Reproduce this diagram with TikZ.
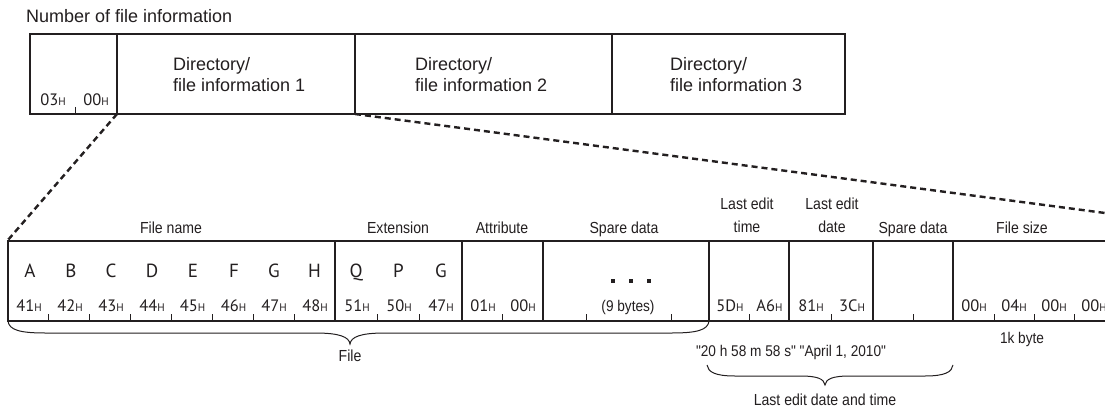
\documentclass[tikz,border=0pt]{standalone}
\usepackage{fontspec}
\setmainfont{Liberation Sans}
\newfontfamily\nrw[FakeStretch=0.88]{Liberation Sans}
\newfontfamily\hexfont{PT Sans}
\newcommand\hx[1]{{\hexfont\fontsize{16.5}{16.5}\selectfont #1{\fontsize{11}{11}\selectfont H}}}
\definecolor{ink}{RGB}{35,31,32}
\begin{document}
\begin{tikzpicture}[x=1pt,y=-1pt,
  every node/.style={text=ink, inner sep=0pt},
  box/.style={draw=ink, line width=1.2pt},
  tk/.style={draw=ink, line width=1pt},
  zoomline/.style={draw=ink, dash pattern=on 6pt off 4pt, line width=2.4pt},
  brc/.style={draw=ink, line width=1pt},
  lbl/.style={font=\nrw\fontsize{16}{23}\selectfont, align=center},
  dirtxt/.style={font=\fontsize{18}{21}\selectfont, align=left, anchor=north west},
  hexn/.style={anchor=base},
  letter/.style={font=\hexfont\fontsize{19}{19}\selectfont, anchor=base},
  dot/.style={fill=ink, minimum size=4.5pt, inner sep=0pt}
]
\clip (0,0) rectangle (1105,409);
\fill[white] (0,0) rectangle (1105,409);

% ---------- top structure ----------
\node[anchor=base west, font=\fontsize{18}{21}\selectfont] (numlbl) at (26,23) {Number of file information};
\draw[box] (30,34) rectangle (845,114);
\draw[box] (117,34) -- (117,114);
\draw[box] (355,34) -- (355,114);
\draw[box] (612,34) -- (612,114);
\draw[tk] (75,107) -- (75,114);
\node[hexn] (t03) at (53,106) {\hx{03}};
\node[hexn] (t00) at (96,106) {\hx{00}};
\node[dirtxt] (d1) at (173,57) {Directory/\\file information 1};
\node[dirtxt] (d2) at (415,57) {Directory/\\file information 2};
\node[dirtxt] (d3) at (670,57) {Directory/\\file information 3};

\coordinate (zl0) at (117,114);
\coordinate (zl1) at (8,240);
\coordinate (zr0) at (355,114);
\coordinate (zr1) at (1130,216.3);
\draw[zoomline] (zl0) -- (zl1);
\draw[zoomline] (zr0) -- (zr1);

% ---------- bottom table ----------
\draw[box] (1120,241) -- (8,241) -- (8,321) -- (1120,321);
\foreach \x in {335,462,543,709,789,873,953}
  \draw[box] (\x,241) -- (\x,321);
% byte ticks
\foreach \x in {48.9,89.75,130.6,171.5,212.4,253.25,294.1,377.3,419.7,502.5,586,671,749,831,913,994,1034,1074}
  \draw[tk] (\x,314) -- (\x,321);

% headers
\node[lbl, anchor=base] (hfn) at (171,233) {File name};
\node[lbl, anchor=base] (hext) at (398,233) {Extension};
\node[lbl, anchor=base] (hatt) at (502,233) {Attribute};
\node[lbl, anchor=base] (hsp1) at (624,233) {Spare data};
\node[lbl, anchor=north] (hlet) at (747,197.5) {Last edit\\time};
\node[lbl, anchor=north] (hled) at (832,197.5) {Last edit\\date};
\node[lbl, anchor=base] (hsp2) at (913,233) {Spare data};
\node[lbl, anchor=base] (hfs) at (1022,233) {File size};

% letters
\foreach \c/\x in {A/30,B/71,C/111,D/152,E/193,F/234,G/274,H/314.5,Q/356,P/398.5,G/441}
  \node[letter] at (\x,277) {\c};

% hex values
\foreach \v/\x in {41/29,42/70,43/111,44/152,45/192.5,46/233.5,47/274,48/315,51/357,50/399,47/441,01/483,00/523,5D/730,A6/769.5,81/811,3C/852,00/974,04/1014,00/1054,00/1094}
  \node[hexn] at (\x,311) {\hx{\v}};

\node[lbl, anchor=base, font=\nrw\fontsize{15.5}{18}\selectfont] (nine) at (628,311) {(9 bytes)};
\node[dot] (dt1) at (613,281) {};
\node[dot] (dt2) at (631,281) {};
\node[dot] (dt3) at (649,281) {};

% braces
\draw[brc] (8,321) .. controls (9,330) and (20,333) .. (45,333) -- (315,333)
  .. controls (340,333) and (349,337) .. (350,344)
  .. controls (351,337) and (360,333) .. (385,333) -- (672,333)
  .. controls (697,333) and (708,330) .. (709,321);
\node[lbl, anchor=base] (file) at (350,361) {File};

\node[lbl, anchor=base, font=\nrw\fontsize{15.5}{18}\selectfont] (kb) at (1022,343) {1k byte};
\node[lbl, anchor=base, font=\nrw\fontsize{15.5}{18}\selectfont] (dtv) at (791,356) {"20 h 58 m 58 s" "April 1, 2010"};

\draw[brc] (707,365) .. controls (708,372) and (715,376) .. (735,376) -- (800,376)
  .. controls (818,376) and (824,379) .. (825,385)
  .. controls (826,379) and (832,376) .. (850,376) -- (925,376)
  .. controls (945,376) and (952,372) .. (953,365);
\node[lbl, anchor=base] (ledt) at (825,405) {Last edit date and time};
\end{tikzpicture}
\end{document}
